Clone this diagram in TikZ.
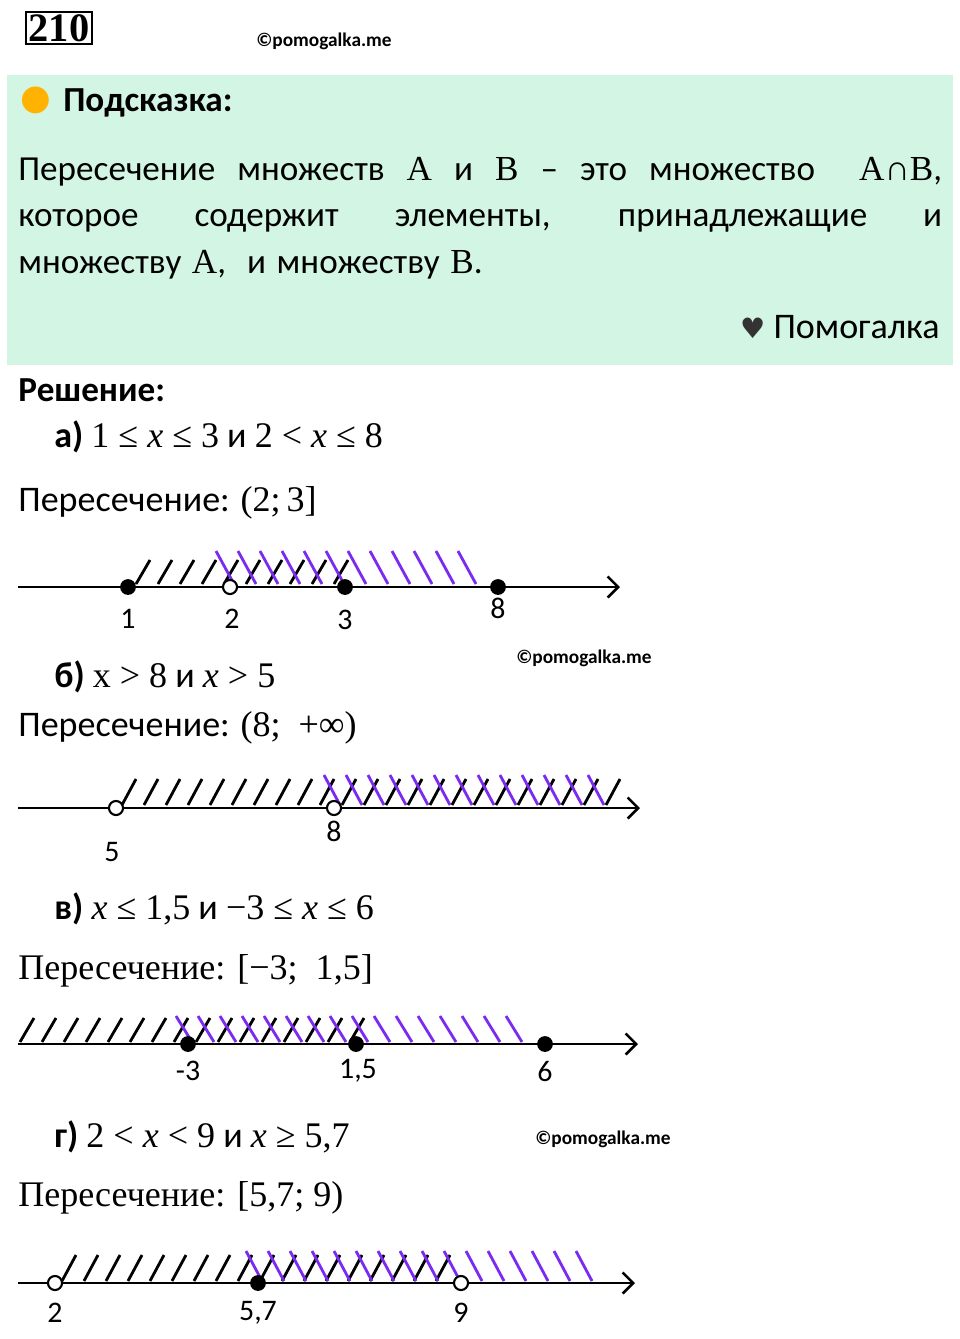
\documentclass[tikz,border=0pt]{standalone}
\usepackage{fontspec}
\setmainfont{Carlito}
\newfontfamily\serif{Liberation Serif}
\newfontfamily\symb{DejaVu Sans}
\usetikzlibrary{arrows.meta}
\definecolor{hintbg}{HTML}{D3F5E3}
\definecolor{hatchviolet}{HTML}{7B2BF0}
\tikzset{%
  >={Straight Barb[line width=1.5pt,length=6pt]}, % default arrow style
  axis/.style={draw,line width=1.6pt,->},
  txt/.style={anchor=west,inner sep=0pt,font=\fontsize{20.5}{26}\selectfont},
  lbl/.style={inner sep=0pt,font=\fontsize{17}{20}\selectfont},
  wmark/.style={font=\fontsize{11}{13}\selectfont\bfseries,inner sep=0pt},
  full/.style={circle,fill,inner sep=0pt,minimum size=9pt},
  hollow/.style={circle,draw,fill=white,line width=1.2pt,inner sep=0pt,minimum size=8pt}
}
\newcommand{\rel}[1]{\ #1\ }
% hatching: from, to, baseline y, height, colour, dx of the top end
\newcommand{\hatch}[6]{%
  \pgfmathtruncatemacro\hsec{#1+22}
  \foreach \hx in {#1,\hsec,...,#2}
    \draw[#5,line width=1.6pt] (\hx,#3) -- ++(#6,#4);
}
\begin{document}
\begin{tikzpicture}[x=0.02cm,y=-0.02cm]
  \useasboundingbox (0,0) rectangle (960,1339);
  % header
  \node[draw,line width=1.3pt,inner sep=1.5pt,font=\serif\fontsize{23}{24}\selectfont\bfseries] (num) at (59,28) {210};
  \node[wmark] (wm1) at (324,41) {©pomogalka.me};
  % hint box
  \fill[hintbg] (7,75) rectangle (953,365);
  \node[font=\fontsize{20}{20}\selectfont,text=orange!60!yellow] (bulb) at (36,100) {\symb ●};
  \node[txt,font=\fontsize{20}{23}\selectfont\bfseries] (hint) at (63,103) {Подсказка:};
  \node[txt,text width=18.48cm,align=justify,font=\fontsize{20}{26.6}\selectfont] (hinttext) at (18,218)
    {\spaceskip=0.3em plus 3em
     Пересечение множеств {\serif A} и {\serif B} – это множество \ {\serif A∩B},\linebreak которое содержит элементы, принадлежащие и\linebreak множеству {\serif A},\ \ и множеству {\serif B}.};
  \node[txt,anchor=east] (brand) at (940,327) {{\symb\fontsize{16}{16}\selectfont\color{black!80}♥}\ Помогалка};
  % solution
  \node[txt,font=\fontsize{20}{23}\selectfont\bfseries] (sol) at (18,390) {Решение:};
  % a)
  \node[txt] (ta) at (54,437) {\textbf{а)} {\serif 1\rel{≤}\textit{x}\rel{≤}3} и {\serif 2\rel{<}\textit{x}\rel{≤}8}};
  \node[txt] (ra) at (18,503) {Пересечение: {\serif (2;\,3]}};
  \hatch{136}{340}{584}{-24}{black}{14}
  \hatch{234}{490}{584}{-33}{hatchviolet}{-18}
  \draw[axis] (18,587) -- (620,587);
  \node[full]   (a1) at (128,587) {};
  \node[hollow] (a2) at (230,587) {};
  \node[full]   (a3) at (345,587) {};
  \node[full]   (a8) at (498,587) {};
  \node[lbl] at (128,619) {1};
  \node[lbl] at (232,619) {2};
  \node[lbl] at (345,620) {3};
  \node[lbl] at (498,608) {8};
  \node[wmark] (wm2) at (584,658) {©pomogalka.me};
  % b)
  \node[txt] (tb) at (54,677) {\textbf{б)} {\serif x\rel{>}8} и {\serif \textit{x}\rel{>}5}};
  \node[txt] (rb) at (18,728) {Пересечение: {\serif (8;\ \ +∞)}};
  \hatch{122}{615}{805}{-26}{black}{14}
  \hatch{340}{625}{805}{-30}{hatchviolet}{-16}
  \draw[axis] (18,808) -- (640,808);
  \node[hollow] (b5) at (116,808) {};
  \node[hollow] (b8) at (334,808) {};
  \node[lbl] at (112,852) {5};
  \node[lbl] at (334,831) {8};
  % c)
  \node[txt] (tc) at (54,909) {\textbf{в)} {\serif \textit{x}\rel{≤}1,5} и {\serif −3\rel{≤}\textit{x}\rel{≤}6}};
  \node[txt,font=\serif\fontsize{20.5}{26}\selectfont] (rc) at (18,971) {Пересечение: [−3;\ \ 1,5]};
  \hatch{20}{350}{1042}{-24}{black}{14}
  \hatch{192}{535}{1042}{-26}{hatchviolet}{-16}
  \draw[axis] (18,1044) -- (638,1044);
  \node[full] (cm3) at (188,1044) {};
  \node[full] (c15) at (356,1044) {};
  \node[full] (c6)  at (545,1044) {};
  \node[lbl] at (188,1071) {-3};
  \node[lbl] at (358,1071) {1,5};
  \node[lbl] at (545,1072) {6};
  % d)
  \node[txt] (td) at (54,1137) {\textbf{г)} {\serif 2\rel{<}\textit{x}\rel{<}9} и {\serif \textit{x}\rel{≥}5,7}};
  \node[wmark] (wm3) at (603,1139) {©pomogalka.me};
  \node[txt,font=\serif\fontsize{20.5}{26}\selectfont] (rd) at (18,1198) {Пересечение: [5,7; 9)};
  \hatch{62}{455}{1281}{-26}{black}{14}
  \hatch{262}{610}{1281}{-30}{hatchviolet}{-16}
  \draw[axis] (18,1283) -- (635,1283);
  \node[hollow] (d2)  at (55,1283) {};
  \node[full]   (d57) at (258,1283) {};
  \node[hollow] (d9)  at (461,1283) {};
  \node[lbl] at (55,1313) {2};
  \node[lbl] at (258,1313) {5,7};
  \node[lbl] at (461,1313) {9};
\end{tikzpicture}
\end{document}
